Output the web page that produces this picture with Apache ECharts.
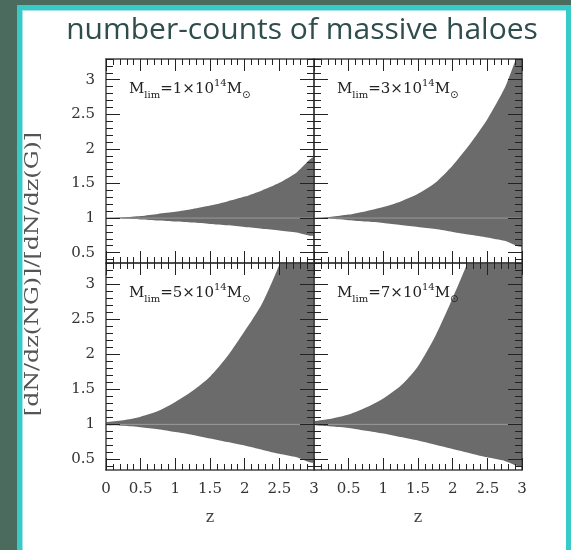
<!DOCTYPE html>
<html>
<head>
<meta charset="utf-8">
<title>number-counts of massive haloes</title>
<script src="https://cdn.jsdelivr.net/npm/echarts@6/dist/echarts.min.js"></script>
<style>
  html, body { margin: 0; padding: 0; width: 571px; height: 550px; overflow: hidden; background: #4a6b5d; }
  #frame { position: absolute; left: 17px; top: 5px; width: 554px; height: 545px; background: #38c9c9; }
  #sheet { position: absolute; left: 22px; top: 10px; width: 544px; height: 540px; background: #ffffff; border-left: 1px solid #9fe3e3; border-top: 1px solid #9fe3e3; box-sizing: border-box; }
  #chart { position: absolute; left: 0; top: 0; width: 571px; height: 550px; }
</style>
</head>
<body>
<div id="frame"></div>
<div id="sheet"></div>
<div id="chart"></div>
<script>
// redshift samples
const z = [0, 0.25, 0.5, 0.75, 1, 1.25, 1.5, 1.75, 2, 2.25, 2.5, 2.75, 3];

// upper / lower edges of the NG/G ratio band for each mass limit
const upper1 = [1.00, 1.01, 1.03, 1.06, 1.09, 1.13, 1.18, 1.24, 1.31, 1.40, 1.51, 1.66, 1.87];
const lower1 = [1.00, 0.99, 0.98, 0.965, 0.95, 0.935, 0.915, 0.895, 0.87, 0.845, 0.82, 0.79, 0.76];

const upper3 = [1.00, 1.02, 1.05, 1.10, 1.16, 1.24, 1.35, 1.51, 1.76, 2.07, 2.43, 2.88, 3.45];
const lower3 = [1.00, 0.99, 0.97, 0.95, 0.93, 0.90, 0.87, 0.84, 0.80, 0.76, 0.72, 0.67, 0.60];

const upper5 = [1.03, 1.06, 1.11, 1.19, 1.32, 1.48, 1.68, 1.97, 2.33, 2.72, 3.28, 4.00, 4.80];
const lower5 = [0.99, 0.98, 0.96, 0.93, 0.89, 0.85, 0.80, 0.75, 0.70, 0.64, 0.58, 0.53, 0.47];

const upper7 = [1.04, 1.08, 1.14, 1.24, 1.37, 1.55, 1.83, 2.26, 2.80, 3.40, 4.20, 5.00, 6.00];
const lower7 = [0.99, 0.97, 0.95, 0.91, 0.87, 0.82, 0.77, 0.71, 0.65, 0.59, 0.53, 0.48, 0.42];

// mass-limit mantissas shown in each panel
const massLimits = ['1', '3', '5', '7'];

// axis ranges and tick spacing
const Y_MIN = 0.35, Y_MAX = 3.3;
const Y_LABEL_MIN = 0.5, Y_LABEL_MAX = 3, Y_STEP = 0.5;
const Y_MINOR_MIN = 0.4, Y_MINOR_STEP = 0.1;
const X_MIN = 0, X_MAX = 3, X_STEP = 0.5;

const panels = [
  { upper: upper1, lower: lower1, m: massLimits[0], left: 106, top: 59, height: 204, yLab: true, xLab: false, skipZero: false },
  { upper: upper3, lower: lower3, m: massLimits[1], left: 314, top: 59, height: 204, yLab: false, xLab: false, skipZero: false },
  { upper: upper5, lower: lower5, m: massLimits[2], left: 106, top: 263, height: 207, yLab: true, xLab: true, skipZero: false },
  { upper: upper7, lower: lower7, m: massLimits[3], left: 314, top: 263, height: 207, yLab: false, xLab: true, skipZero: true }
];

const serif = 'DejaVu Serif';
const tickColor = '#222';
const frameColor = '#444';
const labelStyle = { color: '#333', fontFamily: serif, fontSize: 15 };
const grid = [], xAxis = [], yAxis = [], series = [], title = [];
const W = 208;

function hiddenX(gi) {
  xAxis.push({ type: 'value', gridIndex: gi, min: X_MIN, max: X_MAX, show: false });
}

panels.forEach((p) => {
  const ppu = p.height / (Y_MAX - Y_MIN);
  const yPix = v => p.top + (Y_MAX - v) * ppu;

  // data grid: frame and x ticks
  grid.push({ left: p.left, top: p.top, width: W, height: p.height, show: false });
  const gData = grid.length - 1;
  ['bottom', 'top'].forEach((pos, k) => {
    const labelled = k === 0 && p.xLab;
    xAxis.push({
      type: 'value', gridIndex: gData, position: pos, min: X_MIN, max: X_MAX, interval: X_STEP, z: 5,
      splitLine: { show: false },
      axisLine: { show: true, onZero: false, lineStyle: { color: frameColor, width: 1.5 } },
      axisTick: { show: true, inside: true, length: 12, lineStyle: { color: tickColor, width: 1 } },
      minorTick: { show: true, splitNumber: 5, length: 6, lineStyle: { color: tickColor, width: 1 } },
      axisLabel: labelled
        ? Object.assign({ show: true, margin: 12, formatter: v => (p.skipZero && v === 0 ? '' : String(v)) }, labelStyle)
        : { show: false },
      name: labelled ? 'z' : '',
      nameLocation: 'middle', nameGap: 40,
      nameTextStyle: { color: '#444', fontFamily: serif, fontSize: 16 }
    });
  });
  const xi = xAxis.length - 2;
  ['left', 'right'].forEach((pos) => {
    yAxis.push({
      type: 'value', gridIndex: gData, position: pos, min: Y_MIN, max: Y_MAX, z: 5,
      splitLine: { show: false },
      axisLine: { show: true, onZero: false, lineStyle: { color: frameColor, width: 1.5 } },
      axisTick: { show: false }, axisLabel: { show: false }
    });
  });
  const yi = yAxis.length - 2;

  // twin grid spanning 0.5..3: major y ticks and labels
  grid.push({ left: p.left, top: yPix(Y_LABEL_MAX), width: W, height: (Y_LABEL_MAX - Y_LABEL_MIN) * ppu, show: false });
  const gMajor = grid.length - 1;
  hiddenX(gMajor);
  ['left', 'right'].forEach((pos, k) => {
    const labelled = k === 0 && p.yLab;
    yAxis.push({
      type: 'value', gridIndex: gMajor, position: pos, min: Y_LABEL_MIN, max: Y_LABEL_MAX, interval: Y_STEP, z: 5,
      splitLine: { show: false },
      axisLine: { show: false },
      axisTick: { show: true, inside: true, length: 14, lineStyle: { color: tickColor, width: 1 } },
      axisLabel: labelled
        ? Object.assign({ show: true, margin: 11, formatter: v => String(v) }, labelStyle)
        : { show: false }
    });
  });

  // twin grid spanning 0.4..3.3: minor y ticks
  grid.push({ left: p.left, top: p.top, width: W, height: (Y_MAX - Y_MINOR_MIN) * ppu, show: false });
  const gMinor = grid.length - 1;
  hiddenX(gMinor);
  ['left', 'right'].forEach((pos) => {
    yAxis.push({
      type: 'value', gridIndex: gMinor, position: pos, min: Y_MINOR_MIN, max: Y_MAX, interval: Y_MINOR_STEP, z: 5,
      splitLine: { show: false },
      axisLine: { show: false },
      axisTick: { show: true, inside: true, length: 7, lineStyle: { color: tickColor, width: 1 } },
      axisLabel: { show: false }
    });
  });

  // shaded band between the lower and upper ratio curves
  series.push({
    type: 'custom', xAxisIndex: xi, yAxisIndex: yi, clip: true, silent: true, z: 2,
    data: z.map((zz, i) => [zz, p.lower[i], p.upper[i]]),
    renderItem: (params, api) => {
      if (params.dataIndex !== 0) return null;
      const top = z.map((zz, i) => api.coord([zz, p.upper[i]]));
      const bot = z.map((zz, i) => api.coord([zz, p.lower[i]])).reverse();
      return {
        type: 'polygon', shape: { points: top.concat(bot), smooth: 0.25 },
        style: { fill: '#6b6b6b', stroke: null }
      };
    }
  });
  // reference level at unity
  series.push({
    type: 'line', xAxisIndex: xi, yAxisIndex: yi,
    data: [[0, 1], [3, 1]], symbol: 'none', silent: true, z: 3,
    lineStyle: { color: '#9a9a9a', width: 1 }
  });

  title.push({
    left: p.left + 18, top: p.top + 14,
    text: '{m|M}{sub|lim}{m|=' + p.m + '×10}{sup|14}{m|M}{sun|⊙}',
    textStyle: {
      rich: {
        m: { fontFamily: serif, fontWeight: 'normal', fontSize: 15, color: '#222', lineHeight: 22, verticalAlign: 'middle' },
        sub: { fontFamily: serif, fontWeight: 'normal', fontSize: 10, color: '#222', lineHeight: 8, verticalAlign: 'bottom' },
        sup: { fontFamily: serif, fontWeight: 'normal', fontSize: 10, color: '#222', lineHeight: 8, verticalAlign: 'top' },
        sun: { fontFamily: 'DejaVu Sans', fontWeight: 'normal', fontSize: 10, color: '#222', lineHeight: 8, verticalAlign: 'bottom' }
      }
    }
  });
});

const chart = echarts.init(document.getElementById('chart'), null, { renderer: 'canvas' });
chart.setOption({
  backgroundColor: 'transparent',
  animation: false,
  grid, xAxis, yAxis, series, title,
  graphic: [
    {
      type: 'text', x: 302, y: 30,
      style: { text: 'number-counts of massive haloes', fill: '#2f4d4d', font: '30px "Open Sans"',
               textAlign: 'center', textVerticalAlign: 'middle' }
    },
    {
      type: 'text', x: 33, y: 274, rotation: Math.PI / 2, scaleX: 1.25,
      style: { text: '[dN/dz(NG)]/[dN/dz(G)]', fill: '#555', font: '19px "DejaVu Serif"',
               textAlign: 'center', textVerticalAlign: 'middle' }
    }
  ]
});
</script>
</body>
</html>
